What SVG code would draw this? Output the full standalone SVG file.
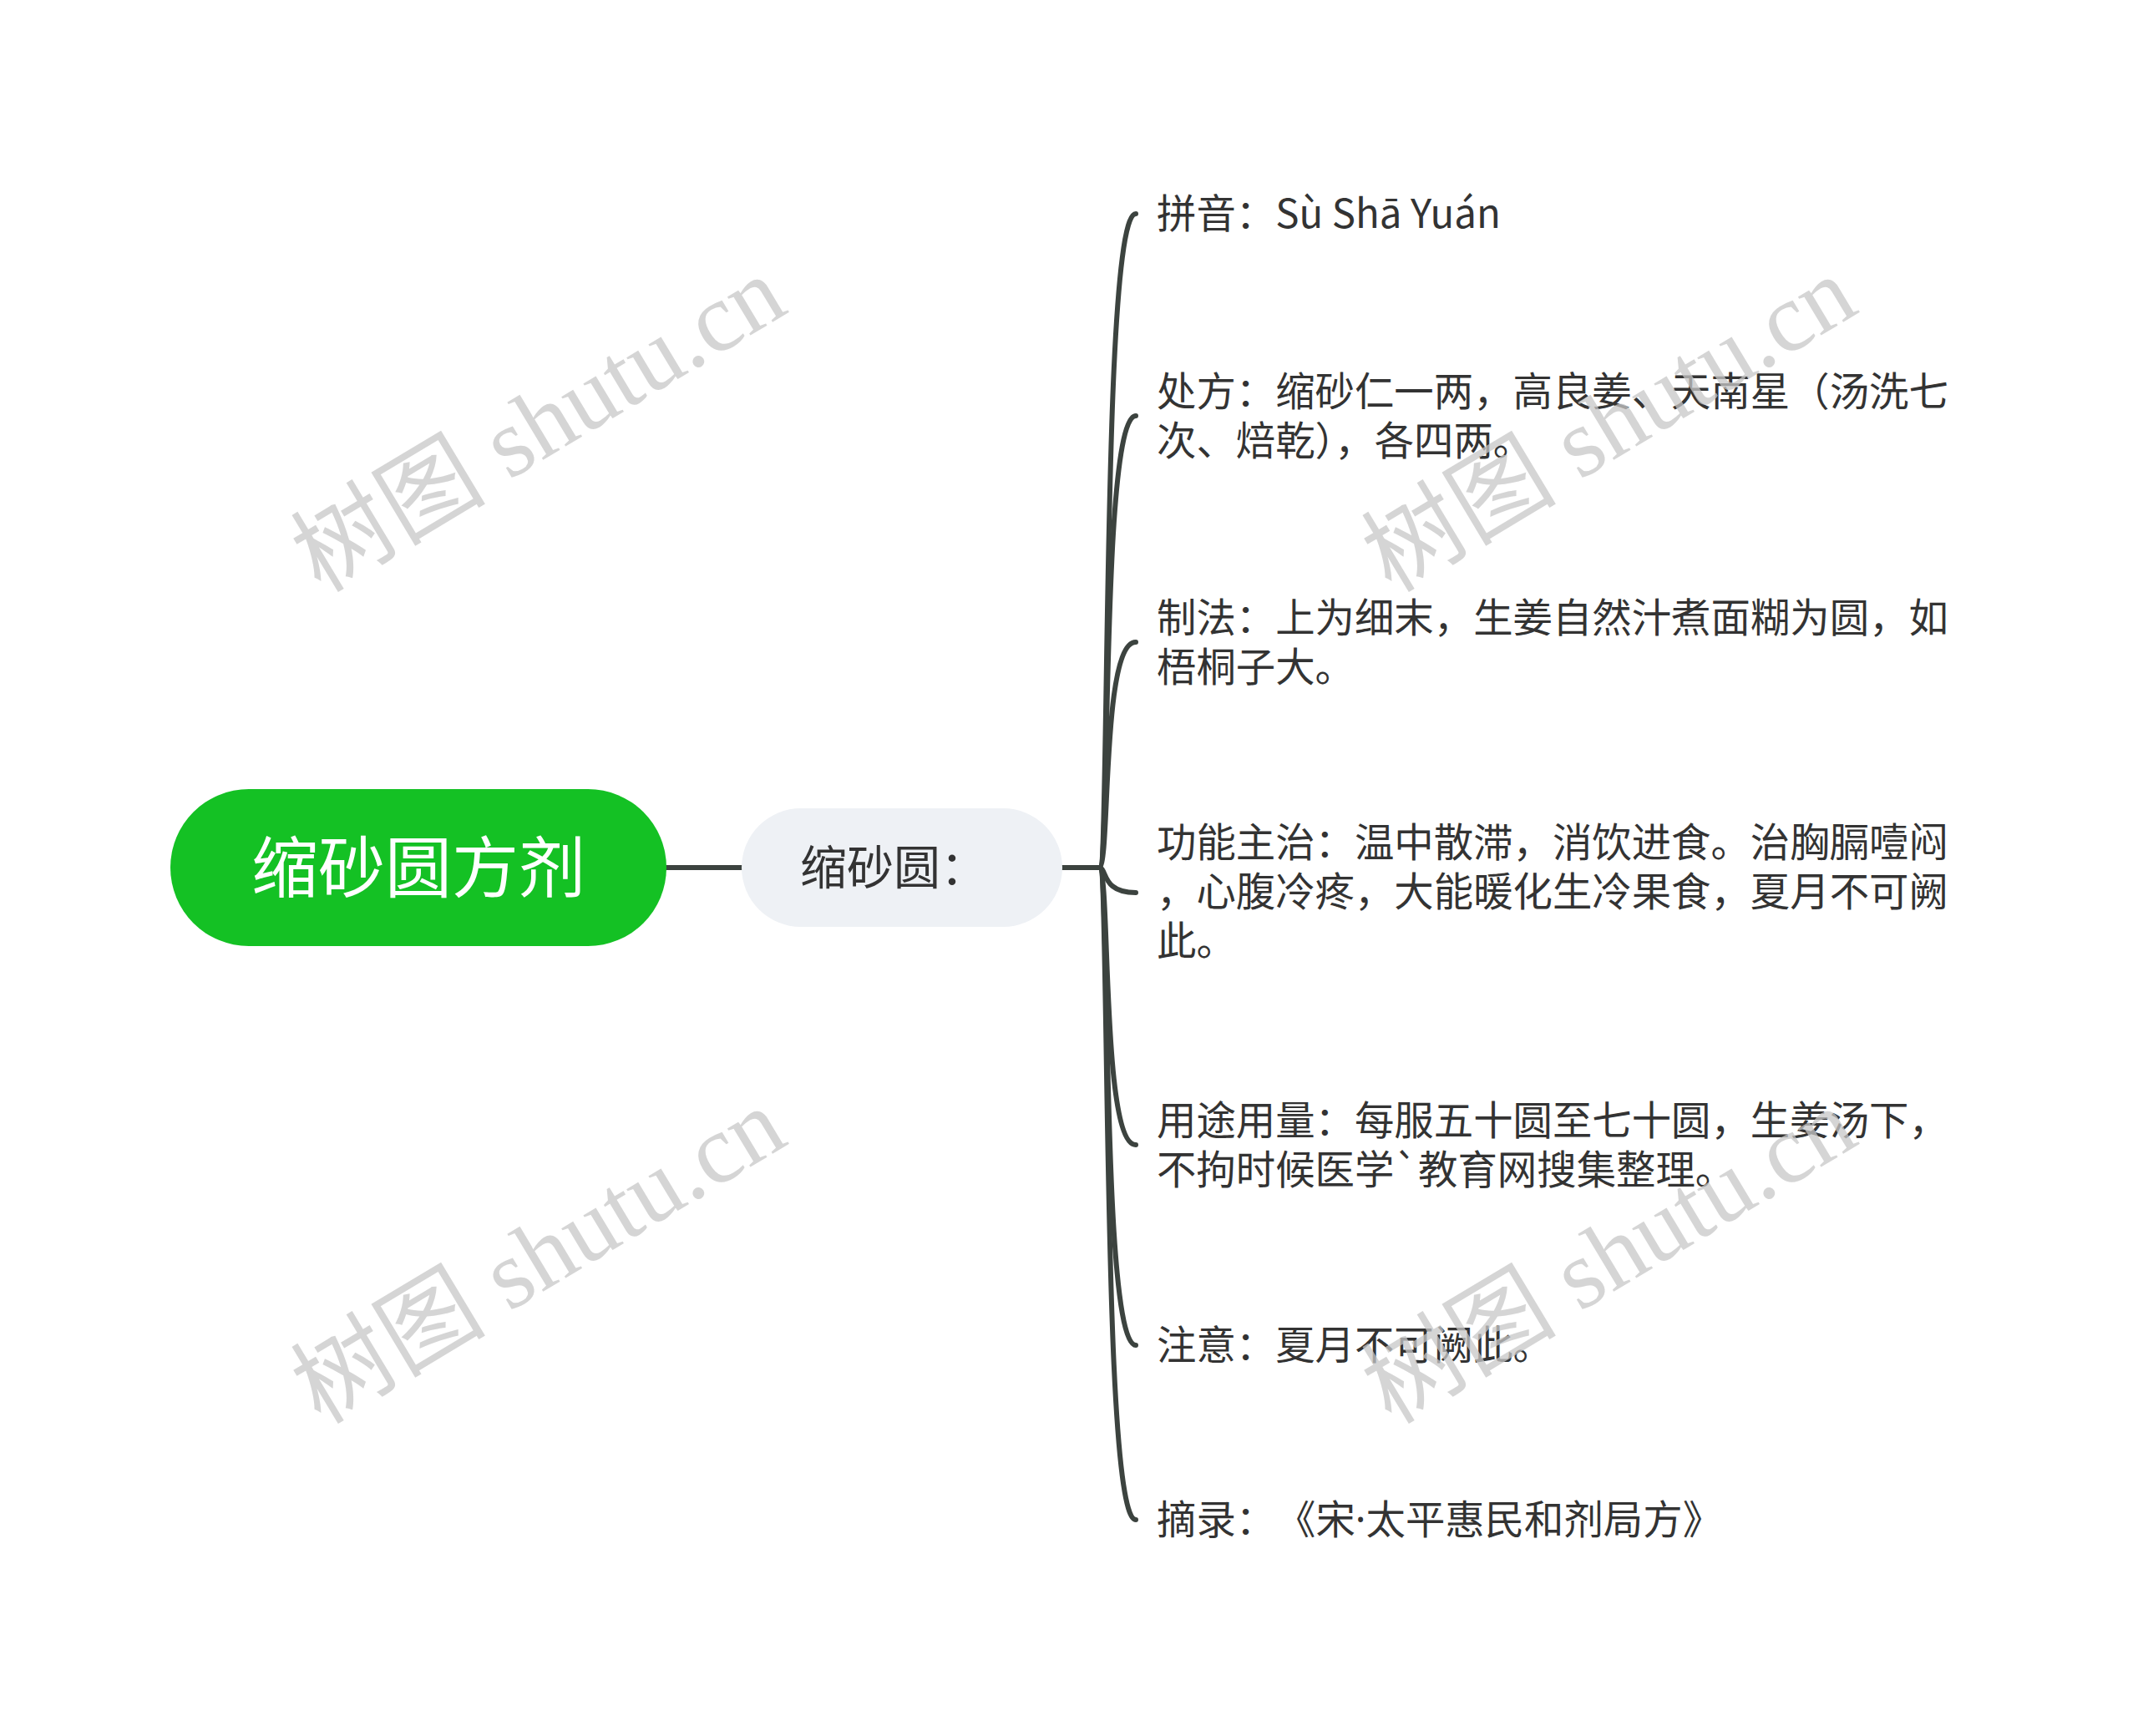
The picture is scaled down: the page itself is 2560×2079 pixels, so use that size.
<svg xmlns="http://www.w3.org/2000/svg" width="2560" height="2079" viewBox="0 0 2560 2079">
<style>
.conn{fill:none;stroke:#3c433f;stroke-width:6;stroke-linecap:round}
.leaf{font-family:"Noto Sans CJK SC","Noto Sans",sans-serif;font-size:47.4px;fill:#333333}
.lat{font-family:"Noto Sans",sans-serif}
.wm{font-family:"Liberation Serif","Noto Sans CJK SC",serif;font-size:117px;fill:#c8c8c8;opacity:0.75}
</style>
<rect width="2560" height="2079" fill="#ffffff"/>
<g id="connectors">
<path class="conn" d="M798 1039 H888"/>
<path class="conn" d="M1272 1039 H1316"/>
<path class="conn" d="M1316 1039 C1330 1039 1318 256 1360 256"/>
<path class="conn" d="M1316 1039 C1330 1039 1318 498 1360 498"/>
<path class="conn" d="M1316 1039 C1330 1039 1318 769 1360 769"/>
<path class="conn" d="M1316 1039 C1326 1039 1318 1069 1360 1069"/>
<path class="conn" d="M1316 1039 C1330 1039 1318 1371 1360 1371"/>
<path class="conn" d="M1316 1039 C1330 1039 1318 1611 1360 1611"/>
<path class="conn" d="M1316 1039 C1330 1039 1318 1820 1360 1820"/>
</g>
<g id="root">
<rect x="204" y="945" width="594" height="188" rx="94" fill="#14c124"/>
<text x="501" y="1068" text-anchor="middle" font-family="'Noto Sans CJK SC',sans-serif" font-size="80" fill="#ffffff">缩砂圆方剂</text>
</g>
<g id="sub">
<rect x="888" y="968" width="384" height="142" rx="71" fill="#eef1f5"/>
<text x="958" y="1059" font-family="'Noto Sans CJK SC',sans-serif" font-size="56" fill="#333333">缩砂圆：</text>
</g>
<g id="leaf1"><text class="leaf" x="1385" y="273">拼音：Sù Shā Yuán</text></g>
<g id="leaf2"><text class="leaf" x="1385" y="486">处方：缩砂仁一两，高良姜、天南星（汤洗七</text><text class="leaf" x="1385" y="545">次、焙乾），各四两。</text></g>
<g id="leaf3"><text class="leaf" x="1385" y="757">制法：上为细末，生姜自然汁煮面糊为圆，如</text><text class="leaf" x="1385" y="816">梧桐子大。</text></g>
<g id="leaf4"><text class="leaf" x="1385" y="1026">功能主治：温中散滞，消饮进食。治胸膈噎闷</text><text class="leaf" x="1385" y="1085">，心腹冷疼，大能暖化生冷果食，夏月不可阙</text><text class="leaf" x="1385" y="1144">此。</text></g>
<g id="leaf5"><text class="leaf" x="1385" y="1359">用途用量：每服五十圆至七十圆，生姜汤下，</text><text class="leaf" x="1385" y="1418">不拘时候医学`教育网搜集整理。</text></g>
<g id="leaf6"><text class="leaf" x="1385" y="1628">注意：夏月不可阙此。</text></g>
<g id="leaf7"><text class="leaf" x="1385" y="1837">摘录：<tspan x="1528">《宋</tspan><tspan class="lat">·</tspan>太平惠民和剂局方》</text></g>
<g id="watermarks">
<text class="wm" text-anchor="middle" transform="translate(665 542) rotate(-31)">树图 shutu.cn</text>
<text class="wm" text-anchor="middle" transform="translate(1947 542) rotate(-31)">树图 shutu.cn</text>
<text class="wm" text-anchor="middle" transform="translate(665 1538) rotate(-31)">树图 shutu.cn</text>
<text class="wm" text-anchor="middle" transform="translate(1947 1538) rotate(-31)">树图 shutu.cn</text>
</g>
</svg>
